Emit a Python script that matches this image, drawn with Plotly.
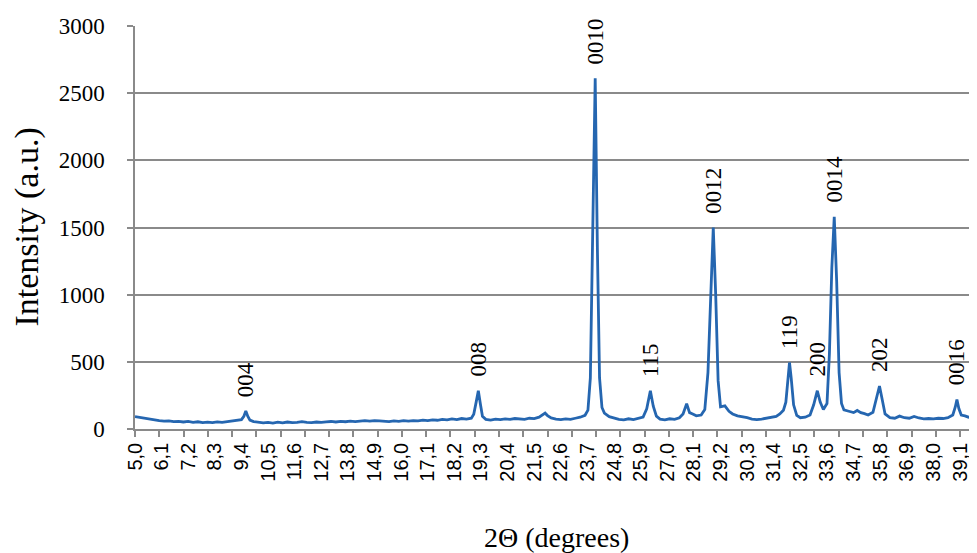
import plotly.graph_objects as go

# 2-theta (degrees) and intensity (a.u.)
two_theta = [
    5.0, 5.2, 5.4, 5.6, 5.8, 6.0, 6.2, 6.4, 6.6, 6.8, 7.0, 7.2, 7.4, 7.6, 7.8, 8.0,
    8.2, 8.4, 8.6, 8.8, 9.0, 9.2, 9.4, 9.5, 9.58, 9.66, 9.75, 9.9, 10.1, 10.3, 10.5,
    10.7, 10.9, 11.1, 11.3, 11.5, 11.7, 11.9, 12.1, 12.3, 12.5, 12.7, 12.9, 13.1,
    13.3, 13.5, 13.7, 13.9, 14.1, 14.3, 14.5, 14.7, 14.9, 15.1, 15.3, 15.5, 15.7,
    15.9, 16.1, 16.3, 16.5, 16.7, 16.9, 17.1, 17.3, 17.5, 17.7, 17.9, 18.1, 18.3,
    18.5, 18.7, 18.9, 19.0, 19.1, 19.19, 19.28, 19.36, 19.5, 19.7, 19.9, 20.1, 20.3,
    20.5, 20.7, 20.9, 21.1, 21.3, 21.5, 21.7, 21.85, 21.95, 22.05, 22.2, 22.4, 22.6,
    22.8, 23.0, 23.2, 23.4, 23.6, 23.72, 23.82, 23.92, 24.02, 24.11, 24.2, 24.3,
    24.4, 24.6, 24.8, 25.0, 25.2, 25.4, 25.6, 25.8, 26.0, 26.15, 26.3, 26.42, 26.55,
    26.7, 26.9, 27.1, 27.3, 27.5, 27.65, 27.8, 27.92, 28.05, 28.2, 28.4, 28.55, 28.68,
    28.8, 28.9, 29.0, 29.1, 29.2, 29.38, 29.55, 29.7, 29.9, 30.1, 30.3, 30.5, 30.7,
    30.9, 31.1, 31.3, 31.5, 31.65, 31.8, 31.9, 32.0, 32.05, 32.12, 32.22, 32.35,
    32.5, 32.7, 32.9, 33.05, 33.2, 33.32, 33.45, 33.6, 33.7, 33.8, 33.9, 34.0,
    34.1, 34.2, 34.3, 34.5, 34.7, 34.85, 35.0, 35.15, 35.3, 35.5, 35.65, 35.77,
    35.88, 36.0, 36.2, 36.4, 36.6, 36.8, 37.0, 37.2, 37.4, 37.6, 37.8, 38.0, 38.2,
    38.4, 38.6, 38.8, 38.9, 38.97, 39.05, 39.15, 39.3, 39.45, 39.6, 39.8,
]
intensity = [
    92, 86, 78, 70, 66, 62, 58, 61, 55, 57, 52, 56, 50, 54, 48, 51,
    47, 53, 49, 54, 56, 60, 70, 95, 135, 95, 66, 55, 50, 45, 49,
    44, 51, 46, 52, 48, 50, 55, 50, 47, 52, 49, 53, 56,
    52, 57, 54, 58, 55, 60, 62, 58, 63, 60, 58, 55, 60,
    57, 62, 58, 63, 60, 66, 62, 68, 65, 72, 68, 75, 70,
    78, 74, 80, 110, 200, 285, 180, 95, 72, 66, 74, 70, 76,
    72, 78, 74, 72, 80, 77, 88, 105, 118, 100, 82, 74, 70,
    76, 72, 80, 88, 102, 140, 380, 1400, 2610, 1350, 380, 160,
    118, 92, 80, 72, 68, 76, 70, 78, 88, 150, 285, 170, 96,
    74, 68, 76, 72, 84, 112, 188, 122, 112, 98, 104, 145, 420,
    1050, 1500, 1000, 360, 165, 172, 132, 112, 98, 92, 84, 74, 70,
    74, 80, 86, 94, 112, 140, 200, 420, 495, 380, 180, 102,
    84, 88, 104, 180, 285, 200, 145, 190, 560, 1200, 1580, 1100,
    420, 190, 142, 132, 122, 138, 122, 114, 104, 124, 225, 320,
    222, 112, 84, 80, 96, 84, 80, 94, 82, 76, 78, 76, 80,
    78, 84, 104, 162, 220, 152, 104, 98, 88, 94, 76,
]

peak_labels = ["004", "008", "0010", "115", "0012", "119", "200", "0014", "202", "0016"]
peak_angles = [9.58, 19.19, 24.02, 26.3, 28.9, 32.05, 33.2, 33.9, 35.77, 38.97]

tick_labels = ["5,0", "6,1", "7,2", "8,3", "9,4", "10,5", "11,6", "12,7", "13,8", "14,9",
               "16,0", "17,1", "18,2", "19,3", "20,4", "21,5", "22,6", "23,7", "24,8", "25,9",
               "27,0", "28,1", "29,2", "30,3", "31,4", "32,5", "33,6", "34,7", "35,8", "36,9",
               "38,0", "39,1"]
tick_positions = [round(5.0 + 1.1 * i, 2) for i in range(len(tick_labels))]

line_color = "#2566B0"
grid_color = "#8A8A8A"
serif = "Liberation Serif"

# page body has an 8px margin, so the figure is sized/offset to compensate
PLOT_H = 403   # pixel height of the plot area
PLOT_W = 842

fig = go.Figure()
fig.add_trace(go.Scatter(
    x=two_theta, y=intensity, mode="lines",
    line=dict(color=line_color, width=2.8),
    hoverinfo="skip", showlegend=False,
))

for lab, ang in zip(peak_labels, peak_angles):
    idx = min(range(len(two_theta)), key=lambda i: abs(two_theta[i] - ang))
    fig.add_annotation(
        x=two_theta[idx], y=intensity[idx], text=lab, showarrow=False,
        textangle=-90, xanchor="center", yanchor="bottom", yshift=12,
        font=dict(family=serif, size=23, color="black"),
    )

fig.add_annotation(
    x=0.5, y=(429 - 537) / PLOT_H, xref="paper", yref="paper", text="2Θ (degrees)",
    showarrow=False, font=dict(family=serif, size=28, color="black"),
    xanchor="center", yanchor="middle",
)
fig.add_annotation(
    x=(26 - 135) / PLOT_W, y=0.5, xref="paper", yref="paper", text="Intensity (a.u.)",
    showarrow=False, textangle=-90, font=dict(family=serif, size=34, color="black"),
    xanchor="center", yanchor="middle",
)

fig.update_layout(
    width=969, height=545,
    margin=dict(l=127, r=0, t=18, b=124, autoexpand=False),
    paper_bgcolor="white", plot_bgcolor="white",
    xaxis=dict(
        range=[5.0, 39.8], tickmode="array", tickvals=tick_positions, ticktext=tick_labels,
        tickangle=-90, ticks="", showgrid=False, zeroline=False, automargin=False,
        showline=True, linecolor=grid_color, linewidth=1.5,
        tickfont=dict(family="Liberation Sans", size=20, color="black"),
        ticklabelstandoff=4,
        minor=dict(tick0=5.0, dtick=1.1 * 31 / 34, ticks="outside", ticklen=6,
                   tickwidth=1.5, tickcolor=grid_color, showgrid=False),
    ),
    yaxis=dict(
        range=[0, 3000], tickmode="array", tickvals=[0, 500, 1000, 1500, 2000, 2500, 3000],
        ticks="outside", ticklen=6, tickwidth=1.5, tickcolor=grid_color,
        showgrid=True, gridcolor=grid_color, gridwidth=1.5, zeroline=False,
        showline=True, linecolor=grid_color, linewidth=1.5, automargin=False,
        tickfont=dict(family=serif, size=23, color="black"),
        ticklabelstandoff=18,
    ),
)

fig.write_html("out.html")
